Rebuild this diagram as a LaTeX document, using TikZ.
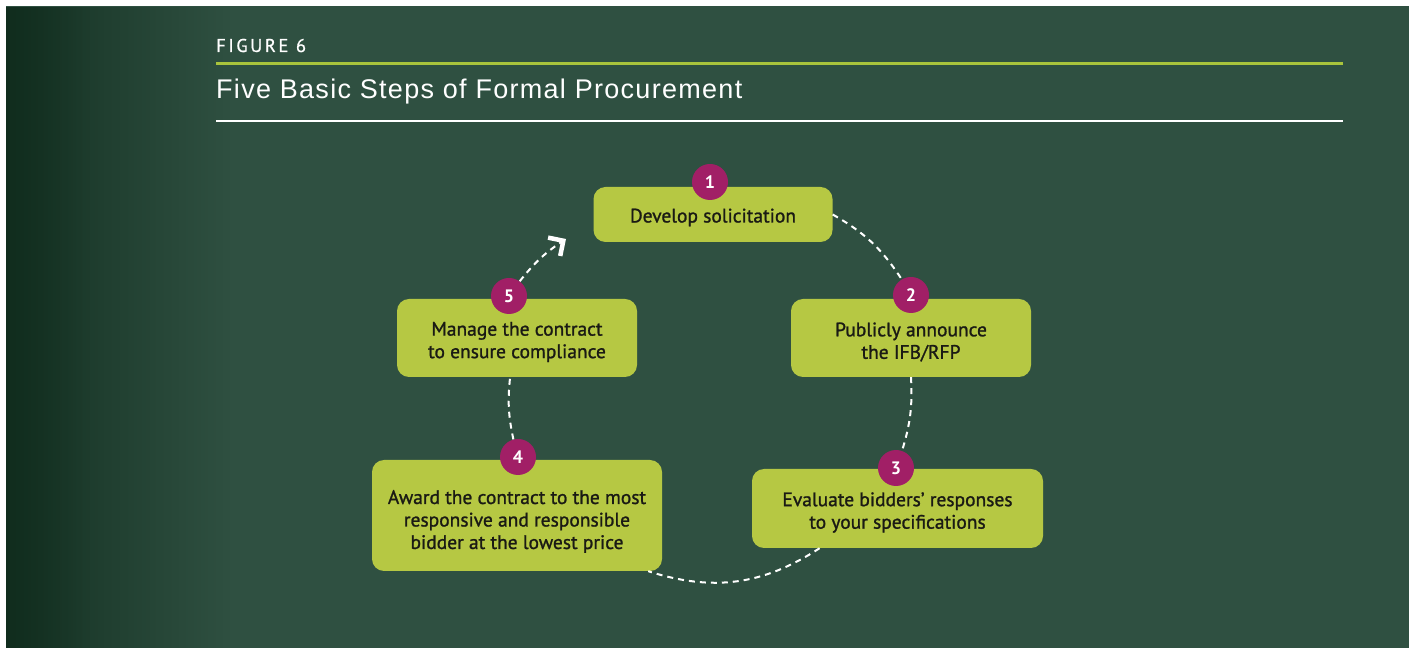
\documentclass[tikz,border=0pt]{standalone}
\usepackage{fontspec}
\setmainfont{PT Sans}
\newfontfamily\titlefont{Liberation Sans}
\usetikzlibrary{arrows.meta,fadings,shapes.geometric}
\definecolor{board}{HTML}{2F5041}
\definecolor{boarddark}{HTML}{0E2A1B}
\definecolor{lime}{HTML}{B6C843}
\definecolor{limeline}{HTML}{A9C43C}
\definecolor{badgec}{HTML}{A11F66}
\definecolor{inkc}{HTML}{1A1A14}
\tikzset{
  stepbox/.style={draw=none, fill=lime, rounded corners=12pt, inner sep=0pt},
  steptext/.style={align=center, text=inkc, inner sep=0pt,
    font=\fontsize{19.5}{22.5}\selectfont\addfontfeature{FakeBold=1.2}},
  badge/.style={circle, fill=badgec, text=white, minimum size=36pt, inner sep=0pt,
    font=\bfseries\fontsize{18}{18}\selectfont},
  link/.style={draw=white, line width=2pt, dash pattern=on 6pt off 5pt},
}
\begin{document}
\begin{tikzpicture}[x=1pt,y=1pt]
\useasboundingbox (0,0) rectangle (1409,648);
% background
\fill[white] (0,0) rectangle (1409,648);
\fill[board] (6,0) rectangle (1409,642);
\fill[boarddark, opacity=0.8, path fading=east] (6,0) rectangle (230,642);
\fill[boarddark, opacity=0.6, path fading=east] (6,0) rectangle (90,642);
% header
\node[anchor=base west, inner sep=0pt, text=white, font=\fontsize{18.5}{18.5}\selectfont\addfontfeature{LetterSpace=14,FakeBold=0.8}] (fig) at (216,596) {FIGURE 6};
\coordinate (gl) at (216,584);
\coordinate (gr) at (1343,584);
\draw[limeline, line width=3pt] (gl) -- (gr);
\node[anchor=base west, inner sep=0pt, text=white, font=\titlefont\fontsize{27}{27}\selectfont\addfontfeature{LetterSpace=4.8}] (title) at (216,549) {Five Basic Steps of Formal Procurement};
\coordinate (wl) at (216,527);
\coordinate (wr) at (1343,527);
\draw[white, line width=1.3pt] (wl) -- (wr);
% step boxes
\node[stepbox, minimum width=239pt, minimum height=55pt] (s1) at (713,433.5) {};
\node[stepbox, minimum width=240pt, minimum height=78pt] (s2) at (911,310) {};
\node[stepbox, minimum width=291pt, minimum height=79pt] (s3) at (897.5,139.5) {};
\node[stepbox, minimum width=290pt, minimum height=111pt] (s4) at (517,132.5) {};
\node[stepbox, minimum width=240pt, minimum height=78pt] (s5) at (517,310) {};
% step texts
\node[steptext] (t1) at ([yshift=-3pt]s1.center) {Develop solicitation};
\node[steptext] (t2) at ([yshift=-4pt]s2.center) {Publicly announce\\the IFB/RFP};
\node[steptext] (t3) at ([yshift=-4pt]s3.center) {Evaluate bidders’ responses\\to your specifications};
\node[steptext] (t4) at ([yshift=-6pt]s4.center) {Award the contract to the most\\responsive and responsible\\bidder at the lowest price};
\node[steptext] (t5) at ([yshift=-4pt]s5.center) {Manage the contract\\to ensure compliance};
% badges
\node[badge] (b1) at (710,466) {1};
\node[badge] (b2) at (911,353) {2};
\node[badge] (b3) at (896,180) {3};
\node[badge] (b4) at (518,191) {4};
\node[badge] (b5) at (509,352) {5};
\coordinate (tip) at (566,409);
% connectors
\draw[link] (s1.east) to[bend left=13.5] (b2);
\draw[link] (s2.south) to[bend left=10] (b3);
\draw[link] (s3.207) to[bend left=25.5] (s4.337);
\draw[link] (b4) to[bend left=9] (s5.260);
\draw[link, -{Straight Barb[sharp, length=11pt, width=22pt, line width=4.5pt]}] (b5) to[bend left=9] (tip);
\end{tikzpicture}
\end{document}
